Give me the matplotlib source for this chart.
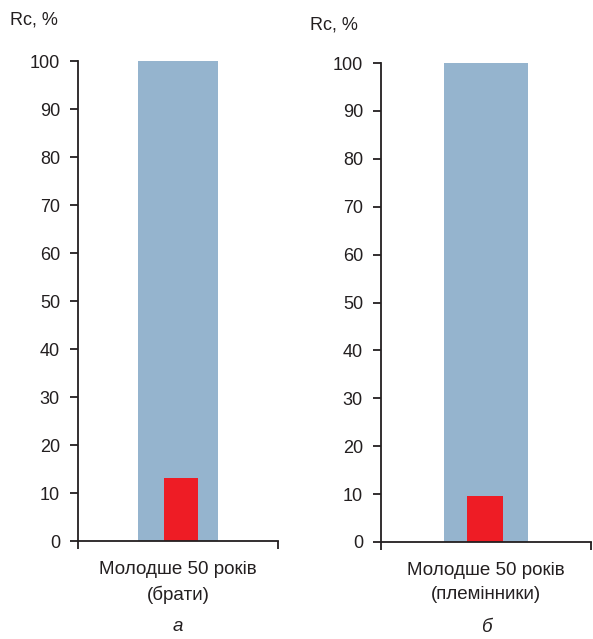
import matplotlib
matplotlib.use("Agg")
import matplotlib.pyplot as plt
from matplotlib import font_manager

names = {f.name for f in font_manager.fontManager.ttflist}
fam = ["Liberation Sans Narrow", "Liberation Sans", "DejaVu Sans"]
fam = [f for f in fam if f in names] or ["DejaVu Sans"]
plt.rcParams["font.family"] = fam

categories = ["Молодше 50 років\n(брати)", "Молодше 50 років\n(племінники)"]
panel_letters = ["а", "б"]
total_values = [100, 100]
red_values = [13.1, 9.6]
yticks = [0, 10, 20, 30, 40, 50, 60, 70, 80, 90, 100]

W, H = 593, 639
fig = plt.figure(figsize=(W / 100, H / 100), dpi=100)

# axes boxes in pixels: (left, top, right, bottom)
boxes = [(78, 61, 278, 541), (381, 63, 591, 542)]
red_pos = [0.515, 0.495]
rc_pos = [(10, 20), (310, 25)]
blue = "#95B4CE"
red = "#EE1C25"
txt = "#231F20"

for i, (l, t, r, b) in enumerate(boxes):
    ax = fig.add_axes([l / W, 1 - b / H, (r - l) / W, (b - t) / H])
    ax.bar([0.5], [total_values[i]], width=0.4, color=blue, zorder=1)
    ax.bar([red_pos[i]], [red_values[i]], width=0.17, color=red, zorder=2)
    ax.set_xlim(0, 1)
    ax.set_ylim(0, 100)
    ax.set_yticks(yticks)
    ax.set_xticks([0, 1])
    ax.set_xticklabels([])
    for s in ["top", "right"]:
        ax.spines[s].set_visible(False)
    for s in ["left", "bottom"]:
        ax.spines[s].set_linewidth(1.3)
        ax.spines[s].set_color(txt)
    ax.tick_params(axis="both", direction="out", length=6, width=1.3, color=txt,
                   labelsize=13, labelcolor=txt, pad=7)
    ax.text(0.5, -0.042, categories[i], transform=ax.transAxes, ha="center", va="top",
            fontsize=13.5, color=txt, linespacing=1.5)
    ax.text(0.5, -0.16, panel_letters[i], transform=ax.transAxes, ha="center", va="top",
            fontsize=13.5, color=txt, style="italic")
    fig.text(rc_pos[i][0] / W, 1 - rc_pos[i][1] / H, "Rc, %", ha="left", va="center",
             fontsize=13, color=txt)

fig.savefig("out.png", dpi=100, facecolor="white")
